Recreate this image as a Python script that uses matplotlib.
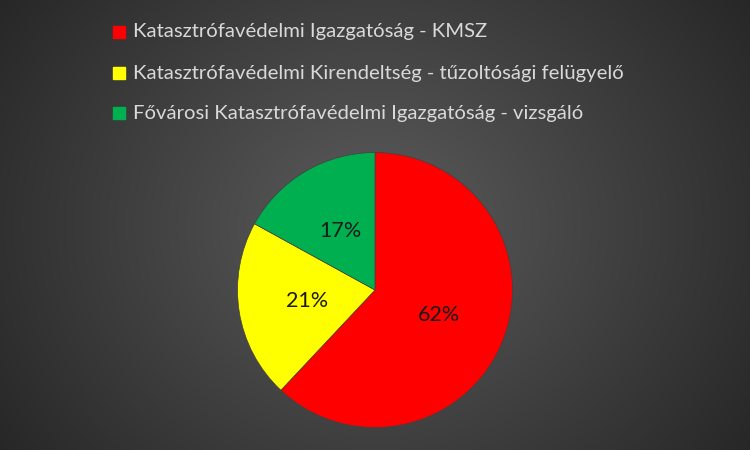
import numpy as np
import matplotlib
matplotlib.use("Agg")
import matplotlib.pyplot as plt

categories = ["Katasztrófavédelmi Igazgatóság - KMSZ",
              "Katasztrófavédelmi Kirendeltség - tűzoltósági felügyelő",
              "Fővárosi Katasztrófavédelmi Igazgatóság - vizsgáló"]
values = [62, 21, 17]
colors = ["#FF0000", "#FFFF00", "#00B050"]

plt.rcParams['font.family'] = ['Lato', 'DejaVu Sans']

W, H = 750, 450
fig = plt.figure(figsize=(W/100, H/100), dpi=100)

# radial gradient background
bg = fig.add_axes([0, 0, 1, 1])
yy, xx = np.mgrid[0:H, 0:W]
cx, cy = W/2, H/2
r = np.sqrt(((xx-cx)/(W*0.62))**2 + ((yy-cy)/(H*0.9))**2)
r = np.clip(r, 0, 1)
c0, c1 = 0x5C/255, 0x26/255
img = c0 + (c1 - c0) * r
bg.imshow(np.dstack([img, img, img]), aspect='auto', extent=[0, W, H, 0])
bg.set_axis_off()

# pie axes: center (375,290), radius ~137
R = 137.5
ax = fig.add_axes([(375-R)/W, (H-290-R)/H, 2*R/W, 2*R/H])
wedges, texts, autotexts = ax.pie(values, colors=colors, startangle=90, counterclock=False,
                                  autopct='%1.0f%%', pctdistance=0.5,
                                  wedgeprops=dict(linewidth=0.5, edgecolor='#404040'),
                                  textprops=dict(fontsize=15.5, color='#1a1a1a'))
ax.set_xlim(-1, 1); ax.set_ylim(-1, 1)
ax.set_aspect('auto')

# legend
ys = [32, 73, 113]
for y, lab, col in zip(ys, categories, colors):
    bg.add_patch(plt.Rectangle((113, y-6), 12, 12, color=col))
    bg.text(133, y, lab, color='#D9D9D9', fontsize=14.6, va='center', ha='left')
bg.set_xlim(0, W); bg.set_ylim(H, 0)

fig.savefig("out.png", dpi=100)
